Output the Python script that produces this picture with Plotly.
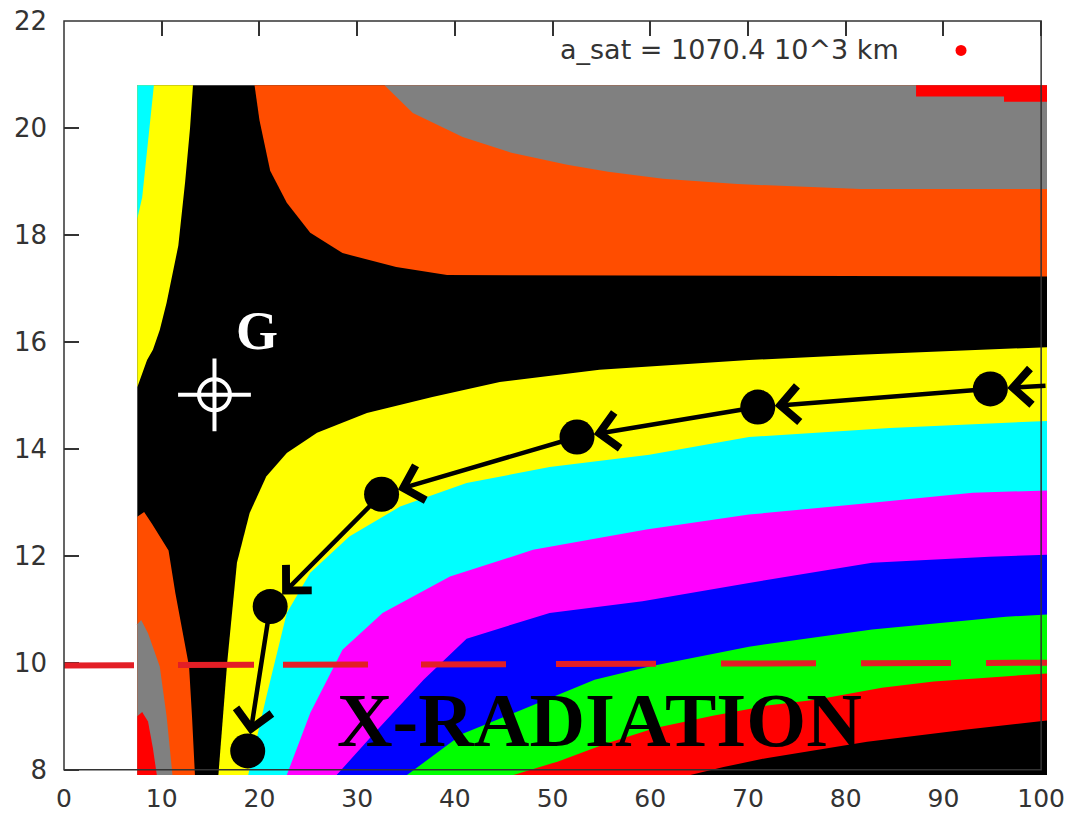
import plotly.graph_objects as go

# ---------------- data ----------------
# extent of the coloured map (axis units)
MAP_X = [7.5, 100.6]
MAP_Y = [7.9, 20.8]

# band boundaries, top-left quadrant (from top edge down to left edge)
tl_cyan_x = [9.2, 8.6, 8.0, 7.5]
tl_cyan_y = [20.8, 19.8, 18.7, 18.3]
tl_yellow_x = [13.2, 12.9, 12.4, 11.7, 10.5, 9.8, 9.1, 8.5, 7.5]
tl_yellow_y = [20.8, 20.0, 19.0, 17.8, 16.73, 16.22, 15.85, 15.66, 15.15]

# top-right quadrant (from top edge to right edge)
tr_orange_x = [19.5, 20.0, 21.1, 22.8, 25.2, 28.5, 34.0, 39.2, 100.6]
tr_orange_y = [20.8, 20.15, 19.2, 18.6, 18.04, 17.66, 17.4, 17.25, 17.22]
tr_gray_x = [32.8, 35.7, 40.8, 45.9, 47.7, 51.5, 55.7, 61.3, 68.9, 81.5, 100.6]
tr_gray_y = [20.8, 20.28, 19.83, 19.53, 19.46, 19.31, 19.18, 19.05, 18.95, 18.86, 18.86]
tr_red_x = [87.2, 87.2, 96.2, 96.2, 100.6]
tr_red_y = [20.8, 20.59, 20.59, 20.49, 20.49]

# bottom-left quadrant (from left edge to bottom edge)
bl_orange_x = [7.5, 8.2, 9.0, 9.8, 10.7, 11.4, 12.0, 12.8, 13.1, 13.4]
bl_orange_y = [12.73, 12.82, 12.6, 12.36, 12.1, 11.3, 10.7, 9.93, 9.0, 7.9]
bl_gray_x = [7.5, 7.9, 8.6, 9.8, 10.5, 11.1]
bl_gray_y = [10.72, 10.8, 10.55, 9.93, 9.0, 7.9]
bl_red_x = [7.5, 8.0, 8.6, 9.1, 9.5]
bl_red_y = [9.0, 9.08, 8.9, 8.4, 7.9]

# bottom-right quadrant (from bottom edge to right edge)
br_yellow_x = [15.8, 16.1, 16.7, 17.7, 19.0, 20.7, 22.8, 25.9, 31.0, 37.7, 44.6, 54.8, 70.1, 81.4, 100.6]
br_yellow_y = [7.9, 8.6, 10.0, 11.87, 12.8, 13.48, 13.92, 14.3, 14.67, 14.97, 15.25, 15.48, 15.66, 15.76, 15.9]
br_cyan_x = [18.85, 20.7, 22.8, 25.2, 29.2, 34.4, 41.2, 49.7, 59.9, 70.1, 84.5, 100.6]
br_cyan_y = [7.9, 9.36, 10.93, 11.68, 12.36, 12.92, 13.36, 13.66, 13.89, 14.22, 14.39, 14.52]
br_magenta_x = [22.8, 25.2, 28.5, 32.6, 39.5, 48.0, 59.6, 70.1, 82.7, 93.0, 100.6]
br_magenta_y = [7.9, 9.06, 10.24, 10.93, 11.61, 12.11, 12.49, 12.77, 12.99, 13.18, 13.22]
br_blue_x = [27.9, 31.7, 36.8, 41.2, 49.7, 59.2, 70.1, 82.7, 94.7, 100.6]
br_blue_y = [7.9, 8.67, 9.68, 10.45, 10.93, 11.15, 11.49, 11.87, 11.98, 12.02]
br_green_x = [35.1, 40.8, 46.3, 54.3, 59.9, 70.1, 82.7, 96.4, 100.6]
br_green_y = [7.9, 8.67, 9.08, 9.68, 9.93, 10.3, 10.62, 10.86, 10.9]
br_red_x = [46.0, 50.5, 55.5, 60.5, 66.4, 72.0, 77.1, 83.7, 89.0, 100.6]
br_red_y = [7.9, 8.15, 8.49, 8.78, 9.01, 9.2, 9.31, 9.53, 9.65, 9.8]
br_black_x = [64.1, 67.5, 72.0, 82.2, 92.4, 100.6]
br_black_y = [7.9, 8.05, 8.22, 8.52, 8.75, 8.92]

# trajectory (first point is where the path enters from the right)
traj_x = [100.6, 94.8, 71.0, 52.5, 32.5, 21.1, 18.8]
traj_y = [15.18, 15.12, 14.78, 14.22, 13.15, 11.05, 8.35]

# dashed limit line
limit_x = [0.0, 101.5]
limit_y = [9.95, 10.0]

# G target
g_x = [15.4]
g_y = [15.01]
g_label = "G"
g_label_pos = (19.7, 16.2)

region_label = "X-RADIATION"
region_label_pos = (54.8, 8.92)

key_label = "a_sat = 1070.4 10^3 km"
key_text_pos = (85.7, 21.47)
key_marker_x = [91.8]
key_marker_y = [21.45]

x_range = [0, 100.6]
y_range = [7.9, 22]
x_frame = [0, 100]
y_frame = [8, 22]

# ---------------- styles ----------------
C_CYAN, C_YELLOW, C_BLACK = "#00ffff", "#ffff00", "#000000"
C_ORANGE, C_GRAY, C_RED = "#ff4d00", "#808080", "#ff0000"
C_MAGENTA, C_BLUE, C_GREEN = "#ff00ff", "#0000ff", "#00ff00"
AXIS_COLOR = "#333333"
FONT = "DejaVu Sans"

fig = go.Figure()


def add_poly(xs, ys, color):
    fig.add_trace(go.Scatter(x=xs, y=ys, mode="lines", fill="toself",
                             fillcolor=color, line=dict(width=0, color=color),
                             hoverinfo="skip", showlegend=False))


# base (black band)
add_poly([MAP_X[0], MAP_X[1], MAP_X[1], MAP_X[0], MAP_X[0]],
         [MAP_Y[0], MAP_Y[0], MAP_Y[1], MAP_Y[1], MAP_Y[0]], C_BLACK)

corner_tl = (MAP_X[0], MAP_Y[1])
corner_tr = (MAP_X[1], MAP_Y[1])
corner_bl = (MAP_X[0], MAP_Y[0])
corner_br = (MAP_X[1], MAP_Y[0])

layers = [
    (tl_yellow_x, tl_yellow_y, corner_tl, C_YELLOW),
    (tl_cyan_x, tl_cyan_y, corner_tl, C_CYAN),
    (tr_orange_x, tr_orange_y, corner_tr, C_ORANGE),
    (tr_gray_x, tr_gray_y, corner_tr, C_GRAY),
    (tr_red_x, tr_red_y, corner_tr, C_RED),
    (bl_orange_x, bl_orange_y, corner_bl, C_ORANGE),
    (bl_gray_x, bl_gray_y, corner_bl, C_GRAY),
    (bl_red_x, bl_red_y, corner_bl, C_RED),
    (br_yellow_x, br_yellow_y, corner_br, C_YELLOW),
    (br_cyan_x, br_cyan_y, corner_br, C_CYAN),
    (br_magenta_x, br_magenta_y, corner_br, C_MAGENTA),
    (br_blue_x, br_blue_y, corner_br, C_BLUE),
    (br_green_x, br_green_y, corner_br, C_GREEN),
    (br_red_x, br_red_y, corner_br, C_RED),
    (br_black_x, br_black_y, corner_br, C_BLACK),
]
for bx, by, corner, col in layers:
    add_poly(list(bx) + [corner[0], bx[0]], list(by) + [corner[1], by[0]], col)

# dashed red line
fig.add_trace(go.Scatter(
    x=limit_x, y=limit_y, mode="lines", hoverinfo="skip", showlegend=False,
    line=dict(color="#e31e26", width=6,
              dash="70px,44px,76px,29px,85px,53px,85px,50px,100px,65px,95px,45px,90px,35px,70px")))

# trajectory circles
fig.add_trace(go.Scatter(x=traj_x[1:], y=traj_y[1:], mode="markers",
                         marker=dict(size=35, color="black", line=dict(width=0)),
                         hoverinfo="skip", showlegend=False))

# G target symbol
fig.add_trace(go.Scatter(x=g_x, y=g_y, mode="markers", hoverinfo="skip", showlegend=False,
                         marker=dict(symbol="cross-thin-open", size=52, color="white",
                                     line=dict(width=4, color="white"))))
fig.add_trace(go.Scatter(x=g_x, y=g_y, mode="markers", hoverinfo="skip", showlegend=False,
                         marker=dict(symbol="circle-open", size=31, color="white",
                                     line=dict(width=4, color="white"))))

# key marker
fig.add_trace(go.Scatter(x=key_marker_x, y=key_marker_y, mode="markers",
                         hoverinfo="skip", showlegend=False,
                         marker=dict(size=11, color="#ff0000")))

annotations = []
for i in range(1, len(traj_x)):
    annotations.append(dict(
        x=traj_x[i], y=traj_y[i], xref="x", yref="y",
        ax=traj_x[i - 1], ay=traj_y[i - 1], axref="x", ayref="y",
        text="", showarrow=True, arrowhead=4, arrowsize=1.55,
        arrowwidth=4.5, arrowcolor="black", standoff=17))

annotations.append(dict(x=g_label_pos[0], y=g_label_pos[1], xref="x", yref="y",
                        text="<b>%s</b>" % g_label, showarrow=False,
                        font=dict(family="Liberation Serif", size=54, color="white")))
annotations.append(dict(x=region_label_pos[0], y=region_label_pos[1], xref="x", yref="y",
                        text="<b>%s</b>" % region_label, showarrow=False,
                        font=dict(family="Liberation Serif", size=77, color="black")))
annotations.append(dict(x=key_text_pos[0], y=key_text_pos[1], xref="x", yref="y",
                        text=key_label, showarrow=False, xanchor="right",
                        font=dict(family=FONT, size=27, color=AXIS_COLOR)))

# frame drawn above the map
xspan = x_range[1] - x_range[0]
yspan = y_range[1] - y_range[0]
px0 = (x_frame[0] - x_range[0]) / xspan
px1 = (x_frame[1] - x_range[0]) / xspan
py0 = (y_frame[0] - y_range[0]) / yspan
py1 = (y_frame[1] - y_range[0]) / yspan
shapes = [dict(type="rect", xref="paper", yref="paper", x0=px0, x1=px1, y0=py0, y1=py1,
               line=dict(color=AXIS_COLOR, width=1.5), layer="above")]

axis_common = dict(showgrid=False, zeroline=False, showline=False, ticks="inside",
                   ticklen=15, tickwidth=1.5, tickcolor=AXIS_COLOR, mirror="ticks",
                   layer="below traces", automargin=False)

fig.update_layout(
    width=1077, height=816,
    margin=dict(l=64, r=30, t=21, b=41, pad=0, autoexpand=False),
    paper_bgcolor="white", plot_bgcolor="white",
    xaxis=dict(range=x_range, tick0=0, dtick=10, ticklabelstandoff=6,
               tickfont=dict(family=FONT, size=25, color=AXIS_COLOR), **axis_common),
    yaxis=dict(range=y_range, tick0=8, dtick=2, ticklabelstandoff=16,
               tickfont=dict(family=FONT, size=26, color=AXIS_COLOR), **axis_common),
    annotations=annotations, shapes=shapes, showlegend=False,
)

fig.write_html("out.html")
